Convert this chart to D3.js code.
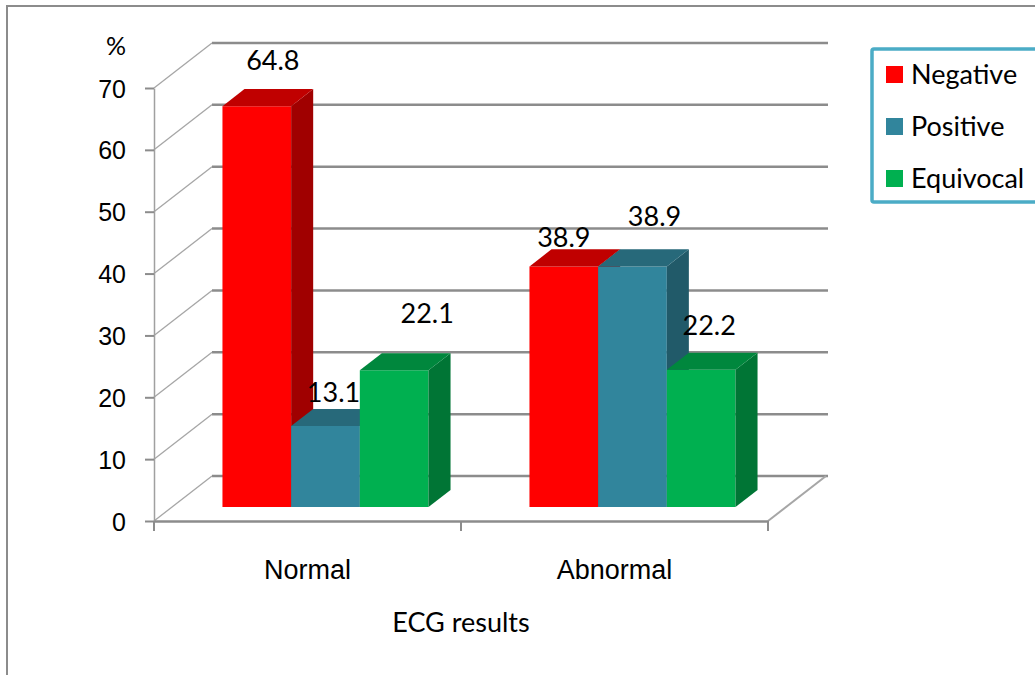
<!DOCTYPE html>
<html>
<head>
<meta charset="utf-8">
<script src="https://cdn.jsdelivr.net/npm/d3@7"></script>
<style>
  body { margin: 0; background: #fff; }
  svg { display: block; font-family: Lato, "Open Sans", sans-serif; }
</style>
</head>
<body>
<svg id="chart"></svg>
<script>
// dữ liệu
const categories = ["Normal", "Abnormal"];
const seriesNames = ["Negative", "Positive", "Equivocal"];
const negative = [64.8, 38.9];
const positive = [13.1, 38.9];
const equivocal = [22.1, 22.2];
const yTicks = [0, 10, 20, 30, 40, 50, 60, 70];
// nhãn được kéo tay trong bản gốc
const labelNudge = [
  [[5, -11], [-11, 6]],
  [[-3, 1], [11, -15]],
  [[22, -22], [-3, -10]]
];

const seriesValues = [negative, positive, equivocal];
const faceColors = [
  { front: "#FF0000", top: "#C00000", side: "#A00000" },
  { front: "#31859C", top: "#27697A", side: "#215A69" },
  { front: "#00B050", top: "#00873D", side: "#007535" }
];

const W = 1035, H = 675;
const svg = d3.select("#chart").attr("width", W).attr("height", H);

// khung ngoài
svg.append("rect")
  .attr("x", 7).attr("y", 6).attr("width", W + 20).attr("height", H + 20)
  .attr("fill", "#fff").attr("stroke", "#8c8c8c").attr("stroke-width", 2);

const y = d3.scaleLinear().domain([0, 70]).range([521, 88]);
const x0 = d3.scaleBand().domain(categories).range([154, 768]).padding(0);
const x1 = d3.scaleBand().domain(seriesNames).range([0, x0.bandwidth()])
  .paddingInner(0).paddingOuter(0.735);

// chiều sâu 3D
const depth = { dx: 58, dy: -45 };
const zFront = 0.31, zBack = 0.69;
const P = (x, v, z) => [x + z * depth.dx, y(v) + z * depth.dy];

const grid = svg.append("g");
// đường lưới tường sau
grid.selectAll(".back")
  .data(yTicks).enter().append("line")
  .attr("x1", d => P(154, d, 1)[0]).attr("y1", d => P(154, d, 1)[1])
  .attr("x2", d => P(770, d, 1)[0]).attr("y2", d => P(770, d, 1)[1])
  .attr("stroke", "#8c8c8c").attr("stroke-width", 2.5);
// đường chéo tường trái
grid.selectAll(".diag")
  .data(yTicks).enter().append("line")
  .attr("x1", d => P(154, d, 0)[0]).attr("y1", d => P(154, d, 0)[1])
  .attr("x2", d => P(154, d, 1)[0]).attr("y2", d => P(154, d, 1)[1])
  .attr("stroke", "#a6a6a6").attr("stroke-width", 1.3);
// cạnh phải của sàn
grid.append("line")
  .attr("x1", P(768, 0, 0)[0]).attr("y1", P(768, 0, 0)[1])
  .attr("x2", P(768, 0, 1)[0]).attr("y2", P(768, 0, 1)[1])
  .attr("stroke", "#a6a6a6").attr("stroke-width", 2);

// trục y
const yAxis = svg.append("g")
  .attr("transform", "translate(154,0)")
  .call(d3.axisLeft(y).tickValues(yTicks).tickSize(9).tickSizeOuter(0).tickPadding(19));
yAxis.select(".domain").attr("stroke", "#a0a0a0").attr("stroke-width", 1.5);
yAxis.selectAll(".tick line").attr("stroke", "#8c8c8c").attr("stroke-width", 2);
yAxis.selectAll(".tick text")
  .attr("fill", "#000").style("font-size", "25px").attr("dy", "0.36em");

svg.append("text")
  .attr("x", 116).attr("y", 55).attr("text-anchor", "middle")
  .style("font-size", "25px").text("%");

// trục x
const xAxis = svg.append("g")
  .attr("transform", `translate(0,${y(0)})`)
  .call(d3.axisBottom(x0).tickSize(0).tickSizeOuter(0).tickPadding(39));
xAxis.select(".domain").attr("stroke", "#8c8c8c").attr("stroke-width", 2.5);
xAxis.selectAll(".tick text")
  .attr("fill", "#000").style("font-size", "27px");

// vạch chia ranh giới nhóm
const bounds = categories.map(c => x0(c)).concat([x0(categories[categories.length - 1]) + x0.bandwidth()]);
xAxis.selectAll(".edge")
  .data(bounds).enter().append("line")
  .attr("x1", d => d).attr("x2", d => d)
  .attr("y1", 0).attr("y2", 10)
  .attr("stroke", "#8c8c8c").attr("stroke-width", 2);

svg.append("text")
  .attr("x", (x0.range()[0] + x0.range()[1]) / 2).attr("y", 632)
  .attr("text-anchor", "middle").style("font-size", "27px")
  .text("ECG results");

// cột 3D
const bars = [];
categories.forEach((c, ci) => {
  seriesNames.forEach((s, si) => {
    bars.push({ c, ci, s, si, v: seriesValues[si][ci] });
  });
});

const poly = pts => "M" + pts.map(p => p.join(",")).join("L") + "Z";
const barG = svg.append("g");
bars.forEach(d => {
  const xl = x0(d.c) + x1(d.s), xr = xl + x1.bandwidth();
  const col = faceColors[d.si];
  const g = barG.append("g");
  // mặt trước
  g.append("path")
    .attr("d", poly([P(xl, 0, zFront), P(xr, 0, zFront), P(xr, d.v, zFront), P(xl, d.v, zFront)]))
    .attr("fill", col.front);
  // mặt bên
  g.append("path")
    .attr("d", poly([P(xr, 0, zFront), P(xr, 0, zBack), P(xr, d.v, zBack), P(xr, d.v, zFront)]))
    .attr("fill", col.side);
  // mặt trên
  g.append("path")
    .attr("d", poly([P(xl, d.v, zFront), P(xr, d.v, zFront), P(xr, d.v, zBack), P(xl, d.v, zBack)]))
    .attr("fill", col.top);
});

// nhãn giá trị
svg.selectAll(".label")
  .data(bars).enter().append("text")
  .attr("class", "label")
  .attr("x", d => P(x0(d.c) + x1(d.s) + x1.bandwidth() / 2, d.v, 0.5)[0] + labelNudge[d.si][d.ci][0])
  .attr("y", d => P(0, d.v, zBack)[1] - 8 + labelNudge[d.si][d.ci][1])
  .attr("text-anchor", "middle").style("font-size", "27px")
  .text(d => d3.format(".1f")(d.v));

// chú giải
const legend = svg.append("g");
legend.append("rect")
  .attr("x", 872).attr("y", 49).attr("width", 200).attr("height", 153)
  .attr("fill", "#fff").attr("stroke", "#4BACC6").attr("stroke-width", 3.5)
  .attr("rx", 2);
const item = legend.selectAll(".item")
  .data(seriesNames).enter().append("g")
  .attr("transform", (d, i) => `translate(886,${66 + i * 52})`);
item.append("rect")
  .attr("width", 17).attr("height", 17)
  .attr("fill", (d, i) => faceColors[i].front);
item.append("text")
  .attr("x", 25).attr("y", 18)
  .style("font-size", "27px")
  .text(d => d);
</script>
</body>
</html>
